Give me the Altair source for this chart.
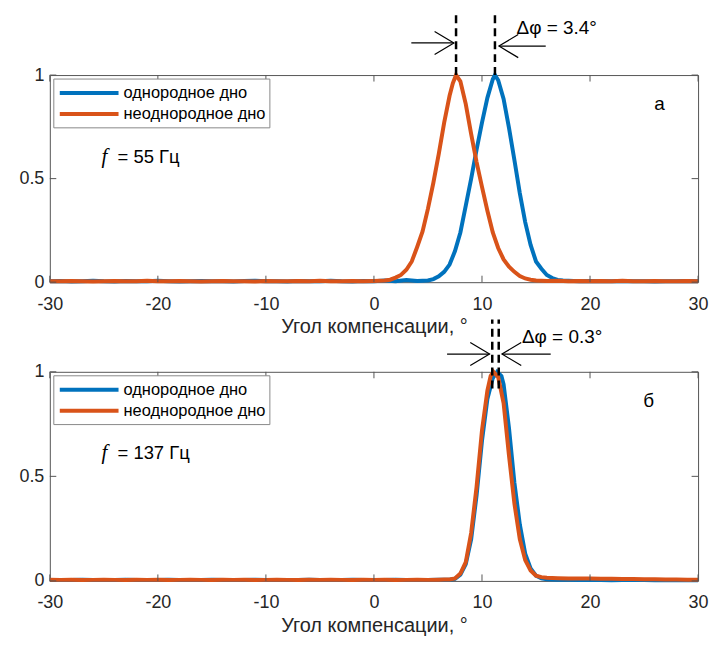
import altair as alt
import pandas as pd

BLUE = "#0072BD"
ORANGE = "#D95319"
LEGEND_LABELS = ["однородное дно", "неоднородное дно"]
X_TITLE = "Угол компенсации, °"
X_TICKS = [-30, -20, -10, 0, 10, 20, 30]
Y_TICKS = [0, 0.5, 1]

# --- panel a, f = 55 Hz ---
a_homog_x = list(range(-30, 5)) + [4.5, 5, 5.5, 6, 6.5, 7, 7.5, 8, 8.5, 9, 9.5, 10, 10.5, 11, 11.2,
                                   11.5, 12, 12.5, 13, 13.5, 14, 14.5, 15, 15.5, 16, 16.5, 17, 17.5] + list(range(18, 31))
a_homog_y = [0.004, 0.006, 0.003, 0.005, 0.007, 0.004, 0.003, 0.006, 0.005, 0.004, 0.007, 0.005,
             0.003, 0.004, 0.006, 0.005, 0.004, 0.003, 0.006, 0.007, 0.004, 0.005, 0.003, 0.006,
             0.004, 0.005, 0.007, 0.004, 0.003, 0.006, 0.004, 0.008, 0.005, 0.010, 0.006,
             0.007, 0.008, 0.015, 0.028, 0.05, 0.085, 0.15, 0.24, 0.37, 0.50, 0.64, 0.77, 0.89, 0.98, 1.0,
             0.975, 0.885, 0.745, 0.59, 0.43, 0.29, 0.18, 0.10, 0.065, 0.035, 0.02, 0.011, 0.008,
             0.007, 0.005, 0.006, 0.004, 0.005, 0.006, 0.004, 0.005, 0.003, 0.005, 0.004, 0.006, 0.004]

a_inhom_x = list(range(-30, 1)) + [1, 1.5, 2, 2.5, 3, 3.5, 4, 4.5, 5, 5.5, 6, 6.5, 7, 7.3, 7.6,
                                   8, 8.5, 9, 9.5, 10, 10.5, 11, 11.5, 12, 12.5, 13, 13.5, 14, 14.5, 15] + list(range(16, 31))
a_inhom_y = [0.005, 0.004, 0.006, 0.005, 0.003, 0.005, 0.006, 0.004, 0.005, 0.007, 0.004, 0.005,
             0.006, 0.004, 0.003, 0.005, 0.006, 0.004, 0.005, 0.003, 0.006, 0.005, 0.004, 0.006,
             0.005, 0.007, 0.004, 0.005, 0.006, 0.004, 0.006,
             0.008, 0.012, 0.022, 0.035, 0.06, 0.10, 0.17, 0.245, 0.355, 0.48, 0.62, 0.77, 0.90, 0.96, 1.0,
             0.97, 0.86, 0.715, 0.58, 0.46, 0.345, 0.24, 0.165, 0.11, 0.075, 0.05, 0.03, 0.018, 0.012, 0.008,
             0.006, 0.007, 0.005, 0.006, 0.004, 0.006, 0.005, 0.007, 0.005, 0.004, 0.006, 0.005, 0.004, 0.006, 0.005]

# --- panel б, f = 137 Hz ---
b_homog_x = list(range(-30, 7)) + [6.5, 7, 7.5, 8, 8.5, 9, 9.5, 10, 10.5, 11, 11.4, 11.8, 12,
                                   12.5, 13, 13.5, 14, 14.5, 15, 15.5, 16] + list(range(17, 31))
b_homog_y = [0.005, 0.004, 0.005, 0.006, 0.004, 0.005, 0.004, 0.006, 0.005, 0.004, 0.005, 0.006,
             0.004, 0.005, 0.004, 0.006, 0.005, 0.004, 0.005, 0.006, 0.004, 0.005, 0.005, 0.004,
             0.006, 0.005, 0.004, 0.005, 0.006, 0.004, 0.005, 0.004, 0.006, 0.005, 0.004, 0.005, 0.006,
             0.006, 0.006, 0.01, 0.03, 0.08, 0.2, 0.41, 0.67, 0.87, 0.97, 1.0, 0.98, 0.94,
             0.73, 0.47, 0.27, 0.13, 0.06, 0.025, 0.012, 0.008,
             0.006, 0.005, 0.004, 0.005, 0.004, 0.003, 0.004, 0.005, 0.004, 0.003, 0.004, 0.003, 0.004, 0.003]

b_inhom_x = list(range(-30, 7)) + [6.5, 7, 7.5, 8, 8.5, 9, 9.5, 10, 10.5, 10.8, 11.05, 11.5, 12,
                                   12.5, 13, 13.5, 14, 14.5, 15, 15.5, 16] + list(range(17, 31))
b_inhom_y = [0.006, 0.005, 0.006, 0.004, 0.005, 0.006, 0.005, 0.004, 0.006, 0.005, 0.006, 0.004,
             0.005, 0.006, 0.005, 0.004, 0.006, 0.005, 0.006, 0.004, 0.005, 0.006, 0.005, 0.004,
             0.006, 0.005, 0.006, 0.005, 0.004, 0.006, 0.005, 0.006, 0.004, 0.005, 0.006, 0.005, 0.006,
             0.007, 0.007, 0.012, 0.035, 0.09, 0.23, 0.45, 0.72, 0.91, 0.98, 1.0, 0.975, 0.85,
             0.60, 0.37, 0.20, 0.10, 0.05, 0.025, 0.018, 0.015,
             0.013, 0.012, 0.012, 0.011, 0.010, 0.010, 0.009, 0.009, 0.008, 0.008, 0.007, 0.007, 0.006, 0.006]

W = 651


def panel(hx, hy, nx, ny, H, freq, letter, letter_x, dphi, dash_x, dash_y, arrow_y,
          left_arrow, right_arrow, text_xy):
    xs = alt.Scale(domain=[-30, 30], nice=False)
    ys = alt.Scale(domain=[0, 1], nice=False)
    xax = alt.Axis(values=X_TICKS, ticks=False, domain=False, grid=False, labelPadding=13,
                   labelFlush=False, labelExpr="'' + datum.value", title=X_TITLE, titlePadding=4)
    yax = alt.Axis(values=Y_TICKS, ticks=False, domain=False, grid=False, labelPadding=6,
                   labelFlush=False, labelExpr="'' + datum.value", title=None)

    dh = pd.DataFrame({"x": hx, "y": hy})
    dn = pd.DataFrame({"x": nx, "y": ny})
    homog = alt.Chart(dh).mark_line(color=BLUE, strokeWidth=4).encode(
        x=alt.X("x:Q", scale=xs, axis=xax), y=alt.Y("y:Q", scale=ys, axis=yax))
    inhom = alt.Chart(dn).mark_line(color=ORANGE, strokeWidth=4).encode(
        x=alt.X("x:Q", scale=xs), y=alt.Y("y:Q", scale=ys))

    # inward ticks on all four sides
    xt = alt.Chart(pd.DataFrame({"t": X_TICKS}))
    yt = alt.Chart(pd.DataFrame({"t": Y_TICKS}))
    tk = dict(color="#555555", strokeWidth=1)
    ticks = [
        xt.mark_rule(**tk).encode(x=alt.X("t:Q", scale=xs), y=alt.value(H), y2=alt.value(H - 6.5)),
        xt.mark_rule(**tk).encode(x=alt.X("t:Q", scale=xs), y=alt.value(0), y2=alt.value(6.5)),
        yt.mark_rule(**tk).encode(y=alt.Y("t:Q", scale=ys), x=alt.value(0), x2=alt.value(6.5)),
        yt.mark_rule(**tk).encode(y=alt.Y("t:Q", scale=ys), x=alt.value(W), x2=alt.value(W - 6.5)),
    ]

    # dashed peak markers and arrows
    dd = pd.DataFrame({"x": dash_x, "y0": [dash_y[0]] * 2, "y1": [dash_y[1]] * 2})
    dashes = alt.Chart(dd).mark_rule(color="black", strokeWidth=2.5, strokeDash=[8, 5]).encode(
        x=alt.X("x:Q", scale=xs), y=alt.Y("y0:Q", scale=ys), y2="y1:Q")
    da = pd.DataFrame({"x0": [left_arrow[0], right_arrow[0]], "x1": [left_arrow[1], right_arrow[1]],
                       "y": arrow_y})
    shafts = alt.Chart(da).mark_rule(color="black", strokeWidth=1.2).encode(
        x=alt.X("x0:Q", scale=xs), x2="x1:Q", y=alt.Y("y:Q", scale=ys))
    head_r = alt.Chart(da.iloc[[0]]).mark_point(
        shape="M-1,-0.6L0,0L-1,0.6", filled=False, color="black", strokeWidth=1.2, size=1500, opacity=1
    ).encode(x=alt.X("x1:Q", scale=xs), y=alt.Y("y:Q", scale=ys))
    head_l = alt.Chart(da.iloc[[1]]).mark_point(
        shape="M1,-0.6L0,0L1,0.6", filled=False, color="black", strokeWidth=1.2, size=1500, opacity=1
    ).encode(x=alt.X("x1:Q", scale=xs), y=alt.Y("y:Q", scale=ys))
    dtext = alt.Chart(pd.DataFrame({"x": [text_xy[0]], "y": [text_xy[1]], "t": [dphi]})).mark_text(
        align="left", baseline="middle", fontSize=19, font="Liberation Sans", color="black"
    ).encode(x=alt.X("x:Q", scale=xs), y=alt.Y("y:Q", scale=ys), text="t:N")

    # legend box in the upper left corner
    one = alt.Chart(pd.DataFrame({"a": [0]}))
    leg = [
        one.mark_rect(fill="white", stroke="#888888", strokeWidth=1).encode(
            x=alt.value(4), x2=alt.value(221), y=alt.value(4), y2=alt.value(53)),
        one.mark_rule(color=BLUE, strokeWidth=4).encode(x=alt.value(10), x2=alt.value(69), y=alt.value(18)),
        one.mark_rule(color=ORANGE, strokeWidth=4).encode(x=alt.value(10), x2=alt.value(69), y=alt.value(39)),
        one.mark_text(align="left", baseline="middle", fontSize=16.5, font="Liberation Sans").encode(
            x=alt.value(74), y=alt.value(18), text=alt.value(LEGEND_LABELS[0])),
        one.mark_text(align="left", baseline="middle", fontSize=16.5, font="Liberation Sans").encode(
            x=alt.value(74), y=alt.value(39), text=alt.value(LEGEND_LABELS[1])),
        one.mark_text(align="left", baseline="middle", fontSize=21, font="Liberation Serif",
                      fontStyle="italic").encode(x=alt.value(52), y=alt.value(82), text=alt.value("f")),
        one.mark_text(align="left", baseline="middle", fontSize=18.5, font="Liberation Sans").encode(
            x=alt.value(68), y=alt.value(82), text=alt.value("= " + freq)),
        one.mark_text(align="left", baseline="middle", fontSize=19, font="Liberation Sans").encode(
            x=alt.value(letter_x), y=alt.value(29), text=alt.value(letter)),
    ]

    return alt.layer(homog, inhom, *ticks, dashes, shafts, head_r, head_l, dtext, *leg).properties(
        width=W, height=H)


top = panel(a_homog_x, a_homog_y, a_inhom_x, a_inhom_y, 208, "55 Гц", "а", 607,
            "Δφ = 3.4°", [7.6, 11.2], [1.0, 1.30], [1.155, 1.14], [3.46, 7.4], [15.9, 11.57], [13.2, 1.226])
bottom = panel(b_homog_x, b_homog_y, b_inhom_x, b_inhom_y, 210, "137 Гц", "б", 596,
               "Δφ = 0.3°", [10.95, 11.55], [0.92, 1.25], [1.085, 1.085], [6.77, 10.7], [16.36, 11.85], [13.7, 1.167])

chart = alt.vconcat(top, bottom, spacing=90, bounds="flush").properties(
    padding={"left": 10, "top": 1, "right": 5, "bottom": 5}
).configure_view(stroke="#555555", strokeWidth=1).configure_axis(
    labelFont="Liberation Sans", labelFontSize=18, labelColor="#262626",
    titleFont="Liberation Sans", titleFontSize=20, titleFontWeight="normal", titleColor="#262626"
)

chart.save("out.html", embed_options={"renderer": "svg", "actions": False})
